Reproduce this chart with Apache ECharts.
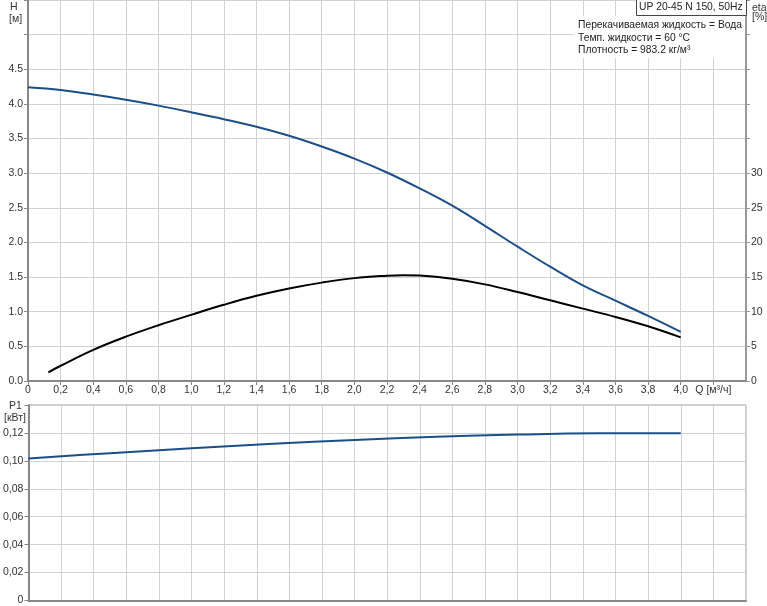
<!DOCTYPE html>
<html>
<head>
<meta charset="utf-8">
<script src="https://cdn.jsdelivr.net/npm/echarts@6/dist/echarts.min.js"></script>
<style>
html,body{margin:0;padding:0;background:#fff;}
#chart{width:767px;height:606px;}
</style>
</head>
<body>
<div id="chart"></div>
<script>
// ---- data ----
var flowQ = [0,0.2,0.4,0.6,0.8,1.0,1.2,1.4,1.6,1.8,2.0,2.2,2.4,2.6,2.8,3.0,3.2,3.4,3.6,3.8,4.0];
var head  = [4.24,4.20,4.135,4.06,3.975,3.88,3.78,3.67,3.54,3.385,3.21,3.01,2.78,2.53,2.24,1.94,1.65,1.38,1.16,0.94,0.71];
var etaQ  = [0.125,0.2,0.4,0.6,0.8,1.0,1.2,1.4,1.6,1.8,2.0,2.2,2.3,2.4,2.6,2.8,3.0,3.2,3.4,3.6,3.8,4.0];
var eta   = [1.25,2.2,4.5,6.4,8.05,9.55,11.0,12.3,13.35,14.2,14.85,15.2,15.28,15.22,14.75,13.95,12.85,11.65,10.45,9.25,7.9,6.3];
var powerQ = [0,0.5,1.0,1.5,2.0,2.5,3.0,3.5,4.0];
var power  = [0.1017,0.1055,0.1090,0.1122,0.1150,0.1172,0.1188,0.1197,0.1198];
var headTitle = 'H', headUnit = '[м]';
var etaTitle = 'eta', etaUnit = '[%]';
var powerTitle = 'P1', powerUnit = '[кВт]';
var flowLabel = 'Q [м³/ч]';
var pumpName = 'UP 20-45 N 150, 50Hz';
var infoLines = ['Перекачиваемая жидкость = Вода','Темп. жидкости = 60 °C','Плотность = 983.2 кг/м³'];

function pairs(xs, ys){ return xs.map(function(x,i){ return [x, ys[i]]; }); }

var FONT = 'Liberation Sans, Arial, sans-serif';
var FS = 10.5;
var txt = {fontFamily: FONT, fontSize: FS, color: '#333'};
var gridColor = '#d2d2d2';
var F = FS + 'px ' + FONT;
var F2 = '10.3px ' + FONT;

var chart = echarts.init(document.getElementById('chart'));
var opt = {
  animation: false,
  backgroundColor: '#fff',
  grid: [
    {left: 28, right: 21, top: 0, bottom: 225},
    {left: 28, right: 21, top: 405, bottom: 4, show: true, borderColor: '#999', borderWidth: 1, backgroundColor: 'transparent'}
  ],
  xAxis: [
    {
      type: 'value', gridIndex: 0, min: 0, max: 4.4, interval: 0.2,
      axisLine: {show: true, onZero: false, lineStyle: {color: '#888', width: 2}},
      axisTick: {show: true, length: 4, lineStyle: {color: '#888'}},
      splitLine: {show: true, lineStyle: {color: gridColor, width: 1}},
      axisLabel: Object.assign({}, txt, {margin: 4, showMaxLabel: false, formatter: function(v){
        if (Math.abs(v) < 1e-9) return '0';
        if (Math.abs(v - 4.2) < 1e-6) return flowLabel;
        if (v > 4.21) return '';
        return v.toFixed(1).replace('.', ',');
      }})
    },
    {
      type: 'value', gridIndex: 1, min: 0, max: 4.4, interval: 0.2,
      axisLine: {show: true, onZero: false, lineStyle: {color: '#888', width: 2}},
      axisTick: {show: false},
      splitLine: {show: true, lineStyle: {color: gridColor, width: 1}},
      axisLabel: {show: false}
    }
  ],
  yAxis: [
    {
      type: 'value', gridIndex: 0, min: 0, max: 5.5, interval: 0.5,
      axisLine: {show: true, lineStyle: {color: '#888', width: 2}},
      axisTick: {show: true, length: 4, lineStyle: {color: '#888'}},
      splitLine: {show: true, lineStyle: {color: gridColor, width: 1}},
      axisLabel: Object.assign({}, txt, {margin: 5, formatter: function(v){
        if (v > 4.51) return '';
        return v.toFixed(1);
      }})
    },
    {
      type: 'value', gridIndex: 0, position: 'right', min: 0, max: 55, interval: 5,
      axisLine: {show: true, lineStyle: {color: '#999', width: 2}},
      axisTick: {show: true, length: 4, lineStyle: {color: '#999'}},
      splitLine: {show: false},
      axisLabel: Object.assign({}, txt, {margin: 5, formatter: function(v){
        if (v > 30.1) return '';
        return String(v);
      }})
    },
    {
      type: 'value', gridIndex: 1, min: 0, max: 0.14, interval: 0.02,
      axisLine: {show: true, lineStyle: {color: '#888', width: 2}},
      axisTick: {show: true, length: 4, lineStyle: {color: '#888'}},
      splitLine: {show: true, lineStyle: {color: gridColor, width: 1}},
      axisLabel: Object.assign({}, txt, {margin: 5, formatter: function(v){
        if (v > 0.131) return '';
        if (Math.abs(v) < 1e-9) return '0';
        return v.toFixed(2).replace('.', ',');
      }})
    }
  ],
  series: [
    {type: 'line', xAxisIndex: 0, yAxisIndex: 0, data: pairs(flowQ, head), smooth: 0.4, showSymbol: false,
     lineStyle: {color: '#1c4f87', width: 2}},
    {type: 'line', xAxisIndex: 0, yAxisIndex: 1, data: pairs(etaQ, eta), smooth: 0.4, showSymbol: false,
     lineStyle: {color: '#000', width: 2}},
    {type: 'line', xAxisIndex: 1, yAxisIndex: 2, data: pairs(powerQ, power), smooth: 0.4, showSymbol: false,
     lineStyle: {color: '#1c4f87', width: 2}}
  ],
  graphic: [
    {type: 'text', left: 10, top: 2, style: {text: headTitle, font: F, fill: '#333'}},
    {type: 'text', left: 9, top: 14, style: {text: headUnit, font: F, fill: '#333'}},
    {type: 'text', left: 752, top: 3, style: {text: etaTitle, font: F, fill: '#333'}},
    {type: 'text', left: 752, top: 12, style: {text: etaUnit, font: F, fill: '#333'}},
    {type: 'text', left: 9, top: 401, style: {text: powerTitle, font: F, fill: '#333'}},
    {type: 'text', left: 4, top: 413, style: {text: powerUnit, font: F, fill: '#333'}},
    {type: 'rect', shape: {x: 574, y: 16, width: 171, height: 42}, style: {fill: '#fff'}, z: 10},
    {type: 'rect', shape: {x: 636.5, y: -1, width: 110, height: 16.5}, style: {fill: '#fff', stroke: '#444', lineWidth: 1}, z: 10},
    {type: 'text', left: 639, top: 2, z: 11, style: {text: pumpName, font: F2, fill: '#222'}},
    {type: 'text', left: 578, top: 20, z: 11, style: {text: infoLines[0], font: F2, fill: '#222'}},
    {type: 'text', left: 578, top: 33, z: 11, style: {text: infoLines[1], font: F2, fill: '#222'}},
    {type: 'text', left: 578, top: 45, z: 11, style: {text: infoLines[2], font: F2, fill: '#222'}}
  ]
};
chart.setOption(opt);
</script>
</body>
</html>
